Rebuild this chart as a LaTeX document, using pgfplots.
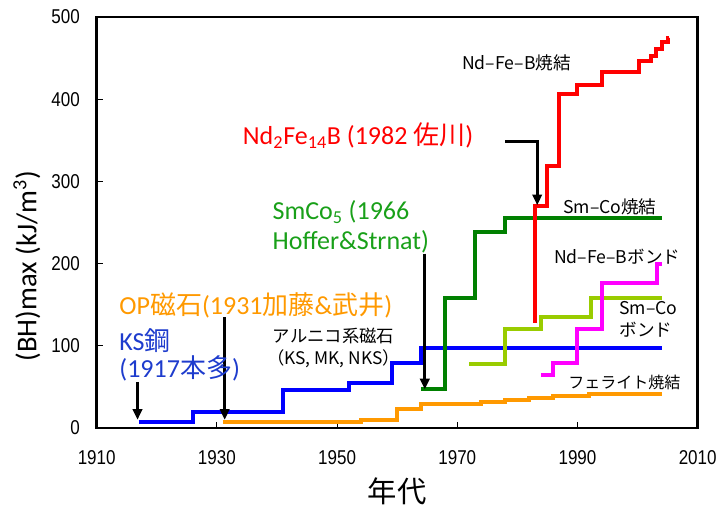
\documentclass[border=0pt]{standalone}
\usepackage{pgfplots}
\pgfplotsset{compat=1.18}
\usetikzlibrary{arrows.meta}
\usepackage{fontspec}
\setmainfont{Carlito}
\newfontfamily\jp{Noto Sans CJK JP}
\newfontfamily\tickf[FakeStretch=0.85]{Liberation Sans}
\definecolor{cblue}{RGB}{0,0,255}
\definecolor{corange}{RGB}{255,153,0}
\definecolor{cgreen}{RGB}{0,128,0}
\definecolor{cred}{RGB}{255,0,0}
\definecolor{cmag}{RGB}{255,0,255}
\definecolor{cyg}{RGB}{153,204,0}
\definecolor{tblue}{RGB}{30,60,205}
\definecolor{tgreen}{RGB}{25,160,25}
\begin{document}
\begin{tikzpicture}
\path[use as bounding box] (-72.5pt,-60pt) rectangle (468.25pt,321pt);
\begin{axis}[
  at={(0,0)}, anchor=south west,
  scale only axis, width=450.75pt, height=308.25pt,
  xmin=1910, xmax=2010, ymin=0, ymax=500,
  xtick={1910,1930,...,2010}, ytick={0,100,...,500},
  tick align=inside, xtick pos=bottom, ytick pos=left,
  major tick length=4.5pt,
  axis line style={line width=1.9pt},
  tick style={black, line width=0.8pt},
  /pgf/number format/assume math mode=true,
  /pgf/number format/1000 sep={},
  ticklabel style={font=\tickf\fontsize{15}{15}\selectfont},
  xticklabel style={inner sep=0pt, anchor=north, yshift=-17pt},
  yticklabel style={inner sep=0pt, anchor=east, xshift=-12.5pt},
  xlabel={\jp 年代},
  xlabel style={at={(axis description cs:0.5,-0.1545)}, anchor=center, font=\fontsize{22}{22}\selectfont},
  ylabel={(BH)max (kJ/m\textsuperscript{3})},
  ylabel style={at={(axis description cs:-0.116,0.394)}, anchor=center, font=\fontsize{21.5}{21.5}\selectfont},
  clip=false,
]
% KS steel / Alnico
\addplot[const plot, cblue, line width=3pt] coordinates {(1917,7) (1926,20) (1941,46) (1952,55) (1959.2,79) (1964,97) (2004,97)};
% OP / ferrite
\addplot[const plot, corange, line width=3pt] coordinates {(1931,7) (1954,10) (1960,23) (1964,29) (1974,32) (1978,34) (1982,36) (1986,39) (1992,41) (2004,41)};
% SmCo sintered
\addplot[const plot, cgreen, line width=3pt] coordinates {(1964,48) (1968,158) (1973,239) (1978,255) (2004,255)};
% Sm-Co bond
\addplot[const plot, cyg, line width=3pt] coordinates {(1972,78) (1978,120) (1984,135) (1992.2,158) (2004,158)};
% Nd-Fe-B bond
\addplot[const plot, cmag, line width=3pt] coordinates {(1984,64) (1986,79) (1990,121) (1994,176) (2003.2,200) (2004,200)};
% Nd-Fe-B sintered
\addplot[const plot, cred, line width=3pt] coordinates {(1983,128) (1983,270) (1985,319) (1987,406) (1990,417) (1994,433) (2000.3,446) (2002.2,452) (2003,461) (2004,469) (2005,474) (2005.3,474)};
% arrows
\addplot[black, line width=2.2pt, -{Triangle[length=8pt,width=7pt]}] coordinates {(1916.8,56) (1916.8,10)};
\addplot[black, line width=2.2pt, -{Triangle[length=8pt,width=7pt]}] coordinates {(1931.3,135) (1931.3,10)};
\addplot[black, line width=2.2pt, -{Triangle[length=8pt,width=7pt]}] coordinates {(1964.6,212) (1964.6,47)};
\addplot[black, line width=2.2pt, -{Triangle[length=8pt,width=7pt]}] coordinates {(1978,349) (1983.3,349) (1983.3,271)};
% colored labels
\node[cred, font=\fontsize{19.5}{22}\selectfont] at (axis cs:1953.5,356) {Nd\textsubscript{2}Fe\textsubscript{14}B (1982 {\jp 佐川})};
\node[tgreen, anchor=west, align=left, font=\fontsize{19.5}{22.5}\selectfont] at (axis cs:1938.5,244.5) {SmCo\textsubscript{5} (1966\\Hoffer\&Strnat)};
\node[corange, anchor=west, font=\fontsize{19.5}{22}\selectfont] at (axis cs:1913,149.6) {OP{\jp 磁石}(1931{\jp 加藤}\&{\jp 武井})};
\node[tblue, anchor=west, align=left, font=\fontsize{19.5}{20}\selectfont] at (axis cs:1913,88.8) {KS{\jp 鋼}\\(1917{\jp 本多})};
% black labels
\node[font=\jp\fontsize{13.2}{16.5}\selectfont] at (axis cs:1979.85,444) {Nd–Fe–B焼結};
\node[font=\jp\fontsize{13.2}{16.5}\selectfont] at (axis cs:1995.4,268.9) {Sm–Co焼結};
\node[font=\jp\fontsize{13.2}{16.5}\selectfont] at (axis cs:1996.6,208.4) {Nd–Fe–Bボンド};
\node[anchor=west, align=left, font=\jp\fontsize{13.2}{16.5}\selectfont] at (axis cs:1996.2,132.6) {Sm–Co\\ボンド};
\node[font=\jp\fontsize{12}{16.5}\selectfont] at (axis cs:1997.8,55.1) {フェライト焼結};
\node[align=center, font=\jp\fontsize{13}{17}\selectfont] at (axis cs:1949.4,97.3) {アルニコ系磁石\\（KS, MK, NKS）};
\end{axis}
\end{tikzpicture}
\end{document}
